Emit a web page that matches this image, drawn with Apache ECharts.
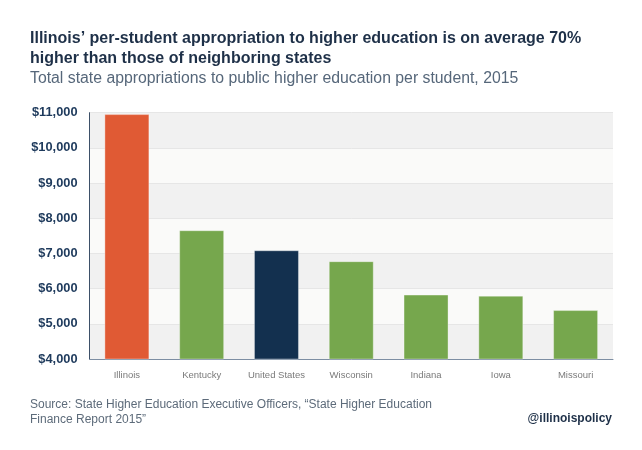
<!DOCTYPE html>
<html>
<head>
<meta charset="utf-8">
<script src="https://cdn.jsdelivr.net/npm/echarts@6/dist/echarts.min.js"></script>
<style>
html,body{margin:0;padding:0;background:#fff;}
#chart{width:642px;height:450px;}
</style>
</head>
<body>
<div id="chart"></div>
<script>
const categories = ["Illinois", "Kentucky", "United States", "Wisconsin", "Indiana", "Iowa", "Missouri"];
const values = [10960, 7660, 7090, 6780, 5830, 5800, 5390];
const barColors = ["#e05a34", "#76a74d", "#13304f", "#76a74d", "#76a74d", "#76a74d", "#76a74d"];
const yMin = 4000, yMax = 11000, yStep = 1000;

const chart = echarts.init(document.getElementById('chart'), null, {renderer: 'canvas'});
const font = '"Liberation Sans", Arial, sans-serif';
chart.setOption({
  backgroundColor: '#ffffff',
  animation: false,
  textStyle: {fontFamily: font},
  title: [
    {text: "Illinois\u2019 per-student appropriation to higher education is on average 70%\nhigher than those of neighboring states",
     left: 25, top: 24,
     textStyle: {fontFamily: font, fontSize: 16, fontWeight: 'bold', color: '#1e3048', lineHeight: 20}},
    {text: "Total state appropriations to public higher education per student, 2015",
     left: 25, top: 66,
     textStyle: {fontFamily: font, fontSize: 15.8, fontWeight: 'normal', color: '#56677a'}},
    {text: "Source: State Higher Education Executive Officers, \u201cState Higher Education\nFinance Report 2015\u201d",
     left: 25, top: 392,
     textStyle: {fontFamily: font, fontSize: 12, fontWeight: 'normal', color: '#5d6b7a', lineHeight: 15}},
    {text: "@illinoispolicy", right: 25, top: 408,
     textStyle: {fontFamily: font, fontSize: 12, fontWeight: 'bold', color: '#1e3048'}}
  ],
  grid: {left: 89.5, right: 29, top: 112.7, bottom: 91, containLabel: false},
  xAxis: {
    type: 'category', data: categories,
    axisLine: {lineStyle: {color: '#7d8ea3', width: 1}},
    axisTick: {show: false},
    axisLabel: {color: '#7a7a7a', fontSize: 9.5, margin: 11, fontFamily: font}
  },
  yAxis: {
    type: 'value', min: yMin, max: yMax, interval: yStep,
    axisLine: {show: true, lineStyle: {color: '#3d5068', width: 1}},
    axisTick: {show: false},
    axisLabel: {color: '#1e3a5c', fontSize: 12.8, fontWeight: 'bold', margin: 12, fontFamily: font,
      formatter: v => '$' + v.toLocaleString('en-US')},
    splitLine: {show: true, lineStyle: {color: '#e6e6e6', width: 1}},
    splitArea: {show: true, areaStyle: {color: ['#f1f1f1', '#fafaf9']}}
  },
  series: [{
    type: 'bar',
    data: values.map((v, i) => ({value: v, itemStyle: {color: barColors[i]}})),
    barWidth: 45,
    itemStyle: {borderColor: 'rgba(255,255,255,0.35)', borderWidth: 1}
  }]
});
</script>
</body>
</html>
